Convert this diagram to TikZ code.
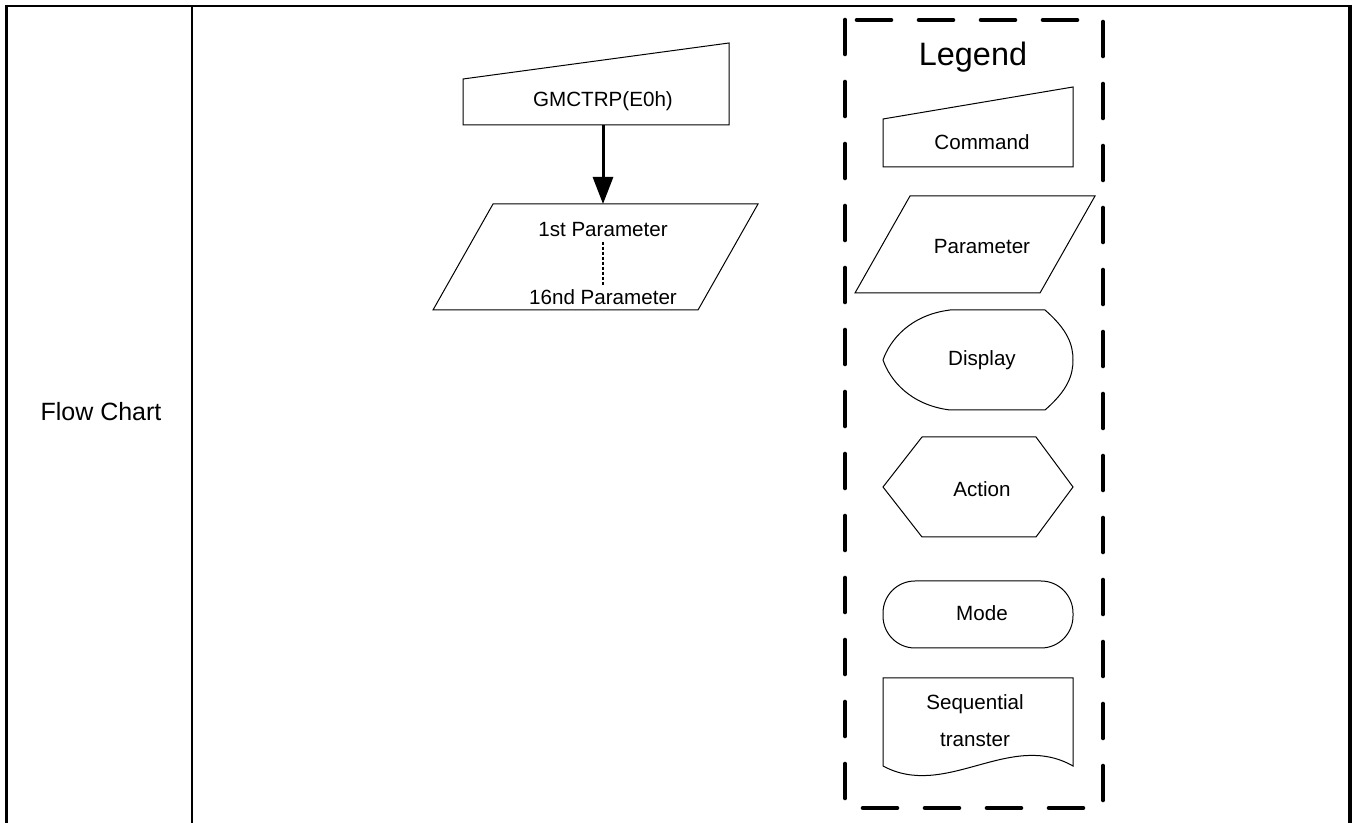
\documentclass[tikz,border=0pt]{standalone}
\usepackage{fontspec}
\setmainfont{Liberation Sans}
\usetikzlibrary{arrows.meta}

\begin{document}
\begin{tikzpicture}[x=0.5pt,y=-0.5pt,
  txt/.style={inner sep=2pt,font=\fontsize{10.3}{12}\selectfont},
  shp/.style={draw,line width=0.5pt}]
\useasboundingbox (0,0) rectangle (1356,823);

% table
\draw[line width=1pt] (5,6) -- (1352,6);
\draw[line width=1.6pt] (6.5,5) -- (6.5,823);
\draw[line width=1pt] (192,6) -- (192,823);
\draw[line width=1.6pt] (1350,5) -- (1350,823);
\node (fc) at (101,412) [font=\fontsize{12.5}{15}\selectfont] {Flow Chart};

% flow
\draw[shp] (463,79) -- (729,43) -- (729,125) -- (463,125) -- cycle;
\node (gmc) at (603,101) [txt] {GMCTRP(E0h)};
\draw[shp] (493,204) -- (758,204) -- (698,310) -- (433,310) -- cycle;
\node (p1) at (603,230) [txt] {1st Parameter};
\node (p16) at (603,297) [txt] {16nd Parameter};
\draw[line width=1pt,dash pattern=on 1.5pt off 1pt] (p1) -- (p16);
\coordinate (cmdb) at (603,125);
\coordinate (part) at (603,204);
\draw[-{Triangle[width=10pt,length=13.5pt]},line width=1.5pt] (cmdb) -- (part);

% legend
\draw[line width=2.3pt,line cap=round,dash pattern=on 17pt off 14pt] (845,20) rectangle (1103,808);
\node (leg) at (973,57) [font=\fontsize{16.2}{19}\selectfont] {Legend};

\draw[shp] (883,119) -- (1073,87) -- (1073,167) -- (883,167) -- cycle;
\node (lcmd) at (982,142) [txt] {Command};

\draw[shp] (910,196) -- (1095,196) -- (1040,293) -- (855,293) -- cycle;
\node (lpar) at (982,247) [txt] {Parameter};

\draw[shp] (950,310) -- (1045,310) .. controls (1068,330) and (1073,345) .. (1073,360)
  .. controls (1073,375) and (1068,390) .. (1045,410) -- (950,410)
  .. controls (910,405) and (890,380) .. (883,360)
  .. controls (890,340) and (910,315) .. (950,310) -- cycle;
\node (ldis) at (982,360) [txt] {Display};

\draw[shp] (922,437) -- (1036,437) -- (1073,487) -- (1036,537) -- (922,537) -- (883,487) -- cycle;
\node (lact) at (982,489) [txt] {Action};

\draw[shp,rounded corners=16pt] (883,581) rectangle (1073,648);
\node (lmode) at (982,613) [txt] {Mode};

\draw[shp] (883,678) -- (1073,678) -- (1073,766) .. controls (1010,730) and (946,800) .. (883,766) -- cycle;
\node (lseq) at (975,721) [txt,align=center,font=\fontsize{10.3}{18.5}\selectfont] {Sequential\\transter};

\end{tikzpicture}
\end{document}
